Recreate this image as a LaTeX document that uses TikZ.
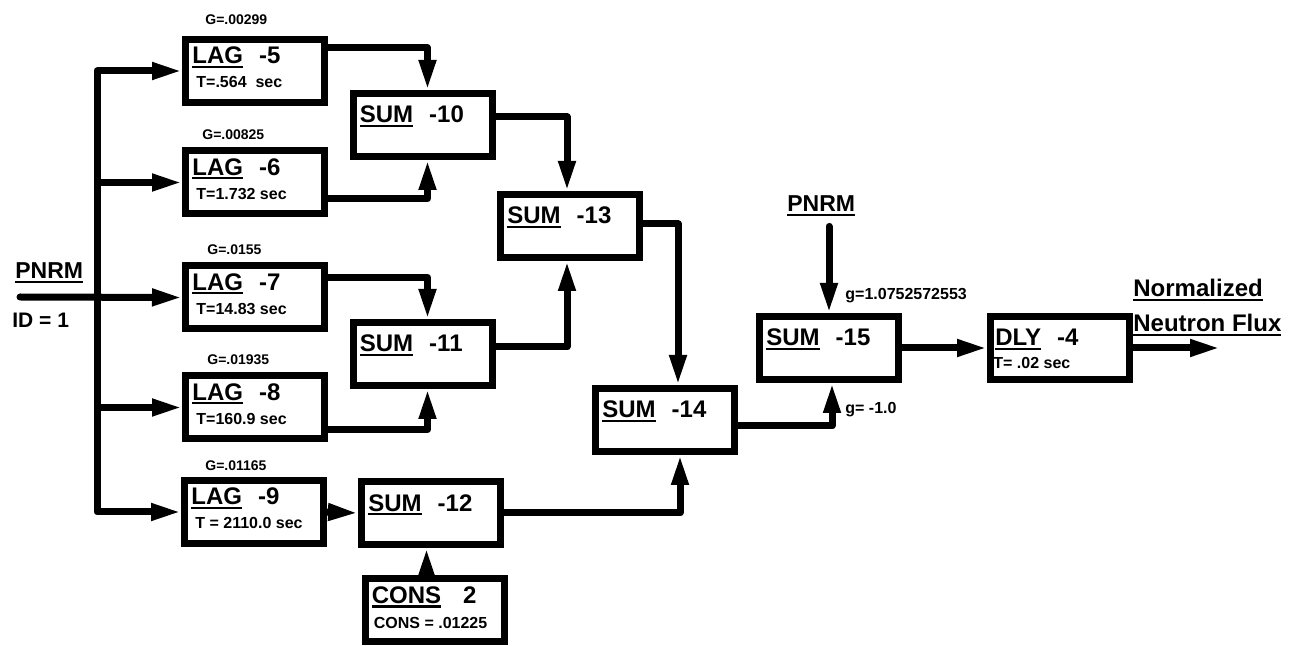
\documentclass[tikz,border=0pt]{standalone}
\usepackage{fontspec}
\setmainfont{Liberation Sans}
\usetikzlibrary{arrows.meta}
\newcommand{\ubar}[1]{\leavevmode\setbox0=\hbox{#1}\rlap{\rule[-2pt]{\wd0}{1.1pt}}\box0}

\begin{document}
\begin{tikzpicture}[x=0.5pt, y=-0.5pt,
    blk/.style={draw, line width=3.5pt, minimum width=69.5pt, minimum height=31.5pt, inner sep=0pt},
    ttl/.style={font=\fontsize{12}{14}\selectfont\bfseries, inner sep=0pt, anchor=base west},
    sub/.style={font=\fontsize{8}{10}\selectfont\bfseries, inner sep=0pt, anchor=base west},
    gain/.style={font=\fontsize{7}{8}\selectfont\bfseries, inner sep=0pt, anchor=base west},
    sig/.style={font=\fontsize{11.5}{14}\selectfont\bfseries, inner sep=0pt, anchor=base west},
    wire/.style={line width=3.5pt, line join=round, line cap=round},
    flow/.style={wire, -{Triangle[length=15pt, width=8pt]}}]
        \useasboundingbox (0,0) rectangle (1296,646);

        % Input signal
        \node[sig] (pnrm) at (15,279) {\ubar{PNRM}};
        \node[sig, font=\fontsize{10.5}{12}\selectfont\bfseries] (id) at (12,328) {ID = 1};
        \coordinate (src) at (20,297);
        \coordinate (split) at (97,297);

        % Lag blocks
        \node[blk] (lag5) at (255,71) {};
        \node[ttl] (lag5t) at ([xshift=5pt,yshift=-14pt]lag5.north west) {\ubar{LAG}\hspace{8pt}-5};
        \node[sub] (lag5s) at ([xshift=7pt,yshift=-26pt]lag5.north west) {T=.564~ sec};
        \node[gain] (lag5g) at (205,25) {G=.00299};

        \node[blk] (lag6) at (255,182.5) {};
        \node[ttl] (lag6t) at ([xshift=5pt,yshift=-14pt]lag6.north west) {\ubar{LAG}\hspace{8pt}-6};
        \node[sub] (lag6s) at ([xshift=7pt,yshift=-26pt]lag6.north west) {T=1.732 sec};
        \node[gain] (lag6g) at (202,140) {G=.00825};

        \node[blk] (lag7) at (255,297.5) {};
        \node[ttl] (lag7t) at ([xshift=5pt,yshift=-14pt]lag7.north west) {\ubar{LAG}\hspace{8pt}-7};
        \node[sub] (lag7s) at ([xshift=7pt,yshift=-26pt]lag7.north west) {T=14.83 sec};
        \node[gain] (lag7g) at (207,255) {G=.0155};

        \node[blk] (lag8) at (255,407.5) {};
        \node[ttl] (lag8t) at ([xshift=5pt,yshift=-14pt]lag8.north west) {\ubar{LAG}\hspace{8pt}-8};
        \node[sub] (lag8s) at ([xshift=7pt,yshift=-26pt]lag8.north west) {T=160.9 sec};
        \node[gain] (lag8g) at (207,365) {G=.01935};

        \node[blk] (lag9) at (254,512) {};
        \node[ttl] (lag9t) at ([xshift=5pt,yshift=-14pt]lag9.north west) {\ubar{LAG}\hspace{8pt}-9};
        \node[sub] (lag9s) at ([xshift=7pt,yshift=-26pt]lag9.north west) {T = 2110.0 sec};
        \node[gain] (lag9g) at (205,471) {G=.01165};

        % Summers
        \node[blk] (sum10) at (422.5,125) {};
        \node[ttl] (sum10t) at ([xshift=5pt,yshift=-16.5pt]sum10.north west) {\ubar{SUM}\hspace{8pt}-10};
        \node[blk] (sum11) at (422.5,354) {};
        \node[ttl] (sum11t) at ([xshift=5pt,yshift=-16.5pt]sum11.north west) {\ubar{SUM}\hspace{8pt}-11};
        \node[blk] (sum12) at (431,513) {};
        \node[ttl] (sum12t) at ([xshift=5pt,yshift=-16.5pt]sum12.north west) {\ubar{SUM}\hspace{8pt}-12};
        \node[blk] (sum13) at (570,226) {};
        \node[ttl] (sum13t) at ([xshift=5pt,yshift=-16.5pt]sum13.north west) {\ubar{SUM}\hspace{8pt}-13};
        \node[blk] (sum14) at (665,420) {};
        \node[ttl] (sum14t) at ([xshift=5pt,yshift=-16.5pt]sum14.north west) {\ubar{SUM}\hspace{8pt}-14};
        \node[blk] (sum15) at (829,348) {};
        \node[ttl] (sum15t) at ([xshift=5pt,yshift=-16.5pt]sum15.north west) {\ubar{SUM}\hspace{8pt}-15};

        % Constant
        \node[blk] (cons2) at (434.5,609.5) {};
        \node[ttl] (cons2t) at ([xshift=5pt,yshift=-14.5pt]cons2.north west) {\ubar{CONS}\hspace{11pt}2};
        \node[sub] (cons2s) at ([xshift=6pt,yshift=-27pt]cons2.north west) {CONS = .01225};

        % Delay and output
        \node[blk] (dly4) at (1060,348) {};
        \node[ttl] (dly4t) at ([xshift=4pt,yshift=-16.5pt]dly4.north west) {\ubar{DLY}\hspace{8pt}-4};
        \node[sub] (dly4s) at ([xshift=3pt,yshift=-28pt]dly4.north west) {T= .02 sec};
        \node[sig, font=\fontsize{12}{14}\selectfont\bfseries] (flux1) at (1133,297) {\ubar{Normalized}};
        \node[sig, font=\fontsize{12}{14}\selectfont\bfseries] (flux2) at (1133,332) {\ubar{Neutron Flux}};
        \coordinate (out) at (1220,348);

        % Second input and gains
        \node[sig] (pnrm2) at (787,212) {\ubar{PNRM}};
        \node[gain, font=\fontsize{8}{10}\selectfont\bfseries] (g15a) at (845,300) {g=1.0752572553};
        \node[gain, font=\fontsize{8}{10}\selectfont\bfseries] (g15b) at (845,414) {g= -1.0};

        % Wires
        \draw[flow] (src) -- (lag7.west);
        \draw[flow] (split) |- (lag5.west);
        \draw[flow] (split) |- (lag6.west);
        \draw[flow] (split) |- (lag8.west);
        \draw[flow] (split) |- (lag9.west);

        \draw[flow] ([yshift=11.5pt]lag5.east) -| ([xshift=2.5pt]sum10.north);
        \draw[flow] ([yshift=-8pt]lag6.east) -| ([xshift=2.5pt]sum10.south);
        \draw[flow] ([yshift=10pt]lag7.east) -| ([xshift=2.5pt]sum11.north);
        \draw[flow] ([yshift=-11pt]lag8.east) -| ([xshift=2.5pt]sum11.south);
        \draw[flow] (lag9.east) -- (sum12.west);
        \draw[flow] ([xshift=-4pt]cons2.north) -- ([xshift=-4pt]cons2.north |- sum12.south);

        \draw[flow] ([yshift=4pt]sum10.east) -| ([xshift=-1.5pt]sum13.north);
        \draw[flow] ([yshift=3.5pt]sum11.east) -| ([xshift=-1.5pt]sum13.south);
        \draw[flow] ([yshift=1pt]sum13.east) -| ([xshift=6.5pt]sum14.north);
        \draw[flow] (sum12.east) -| ([xshift=7.5pt]sum14.south);
        \draw[flow] ([yshift=-3pt]sum14.east) -| ([xshift=1.5pt]sum15.south);
        \draw[flow] ([yshift=-5pt]sum15.north |- pnrm2.south) -- (sum15.north);
        \draw[flow] (sum15.east) -- (dly4.west);
        \draw[flow] (dly4.east) -- (out);
    \end{tikzpicture}
\end{document}
